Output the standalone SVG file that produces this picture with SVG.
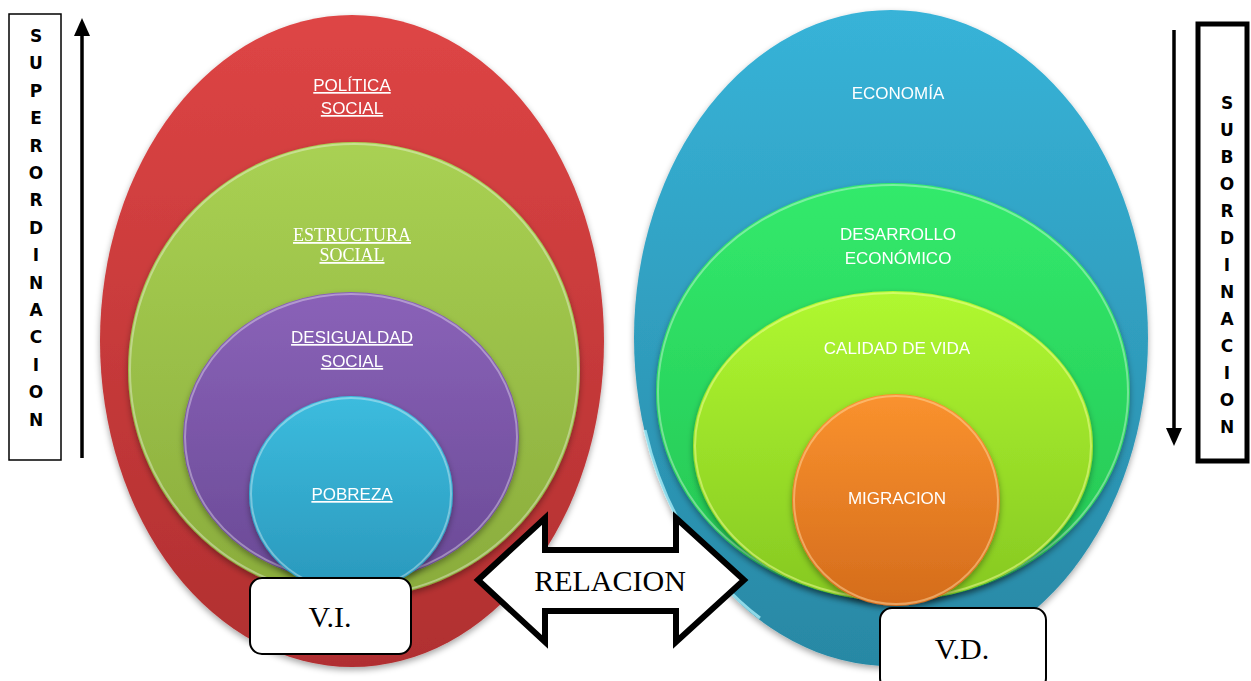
<svg xmlns="http://www.w3.org/2000/svg" width="1251" height="681" viewBox="0 0 1251 681">
<defs>
<linearGradient id="gRed" x1="0" y1="0" x2="0" y2="1"><stop offset="0" stop-color="#de4545"/><stop offset="1" stop-color="#b02f30"/></linearGradient>
<linearGradient id="gLime" x1="0" y1="0" x2="0" y2="1"><stop offset="0" stop-color="#a9d153"/><stop offset="1" stop-color="#8aac3c"/></linearGradient>
<linearGradient id="gPur" x1="0" y1="0" x2="0" y2="1"><stop offset="0" stop-color="#8a62b8"/><stop offset="1" stop-color="#6a4a96"/></linearGradient>
<linearGradient id="gCy" x1="0" y1="0" x2="0" y2="1"><stop offset="0" stop-color="#3cbcde"/><stop offset="1" stop-color="#2a98bc"/></linearGradient>
<linearGradient id="gBlue" x1="0" y1="0" x2="0" y2="1"><stop offset="0" stop-color="#37b3d8"/><stop offset="1" stop-color="#2888a4"/></linearGradient>
<linearGradient id="gGreen" x1="0" y1="0" x2="0" y2="1"><stop offset="0" stop-color="#32ea6c"/><stop offset="1" stop-color="#25c452"/></linearGradient>
<linearGradient id="gYG" x1="0" y1="0" x2="0" y2="1"><stop offset="0" stop-color="#b0f830"/><stop offset="1" stop-color="#86c822"/></linearGradient>
<linearGradient id="gOr" x1="0" y1="0" x2="0" y2="1"><stop offset="0" stop-color="#fa922e"/><stop offset="1" stop-color="#d46c1c"/></linearGradient>
<filter id="sh" x="-10%" y="-10%" width="120%" height="120%"><feDropShadow dx="0" dy="3" stdDeviation="3" flood-color="#000" flood-opacity="0.35"/></filter>
</defs>
<style>
.lbl{font-family:"Liberation Sans",Arial,sans-serif;fill:#fff;text-anchor:middle;font-size:17px}
.ser{font-family:"Liberation Serif","Times New Roman",serif;fill:#fff;text-anchor:middle;font-size:18px}
.u{text-decoration:underline}
.vert{font-family:"DejaVu Sans",Arial,sans-serif;font-weight:bold;font-size:17px;text-anchor:middle;fill:#000}
.box{fill:#fff;stroke:#000;stroke-width:2}
.big{font-family:"Liberation Serif","Times New Roman",serif;font-size:30px;text-anchor:middle;fill:#000}
.hl{fill:none;stroke:#fff;stroke-opacity:0.35;stroke-width:2}
</style>
<rect width="1251" height="681" fill="#fff"/>

<g id="politica-social" filter="url(#sh)">
<ellipse cx="352" cy="341" rx="252" ry="326" fill="url(#gRed)"/>
<text class="lbl u" x="352" y="91">POLÍTICA</text>
<text class="lbl u" x="352" y="114">SOCIAL</text>
</g>
<g id="estructura-social" filter="url(#sh)">
<ellipse cx="354" cy="370" rx="226" ry="228" fill="url(#gLime)"/>
<ellipse cx="354" cy="370" rx="224" ry="226" class="hl"/>
<text class="ser u" x="352" y="241">ESTRUCTURA</text>
<text class="ser u" x="352" y="261">SOCIAL</text>
</g>
<g id="desigualdad-social" filter="url(#sh)">
<ellipse cx="351" cy="437" rx="168" ry="145" fill="url(#gPur)"/>
<ellipse cx="351" cy="437" rx="166" ry="143" class="hl"/>
<text class="lbl u" x="352" y="343">DESIGUALDAD</text>
<text class="lbl u" x="352" y="367">SOCIAL</text>
</g>
<g id="pobreza" filter="url(#sh)">
<ellipse cx="351" cy="494" rx="102" ry="98" fill="url(#gCy)"/>
<ellipse cx="351" cy="494" rx="100" ry="96" class="hl"/>
<text class="lbl u" x="352" y="500">POBREZA</text>
</g>

<g id="economia" filter="url(#sh)">
<ellipse cx="891" cy="338" rx="257" ry="328" fill="url(#gBlue)"/>
<path d="M645,430 A254,325 0 0 0 760,618" fill="none" stroke="#a8ecf8" stroke-width="3" stroke-opacity="0.8"/>
<text class="lbl" x="898" y="99" font-size="18">ECONOMÍA</text>
</g>
<g id="desarrollo-economico" filter="url(#sh)">
<ellipse cx="893" cy="392" rx="237" ry="209" fill="url(#gGreen)"/>
<ellipse cx="893" cy="392" rx="235" ry="207" class="hl"/>
<text class="lbl" x="898" y="240" font-size="18">DESARROLLO</text>
<text class="lbl" x="898" y="264" font-size="18">ECONÓMICO</text>
</g>
<g id="calidad-de-vida" filter="url(#sh)">
<ellipse cx="893" cy="446" rx="200" ry="155" fill="url(#gYG)"/>
<ellipse cx="893" cy="446" rx="198" ry="153" fill="none" stroke="#f4ff9a" stroke-opacity="0.5" stroke-width="2"/>
<text class="lbl" x="897" y="354" font-size="18">CALIDAD DE VIDA</text>
</g>
<g id="migracion" filter="url(#sh)">
<ellipse cx="896" cy="500" rx="104" ry="106" fill="url(#gOr)"/>
<ellipse cx="896" cy="500" rx="102" ry="104" fill="none" stroke="#ffd9a0" stroke-opacity="0.5" stroke-width="2"/>
<text class="lbl" x="897" y="504" font-size="20">MIGRACION</text>
</g>

<g id="vi">
<rect class="box" x="250" y="578" width="161" height="76" rx="12"/>
<text class="big" x="330" y="627">V.I.</text>
</g>
<g id="vd">
<rect class="box" x="880" y="608" width="166" height="82" rx="12"/>
<text class="big" x="962" y="659">V.D.</text>
</g>

<g id="superordinacion">
<rect x="9" y="14" width="52" height="446" fill="#fff" stroke="#000" stroke-width="1.5"/>
<g class="vert">
<text x="36" y="42">S</text><text x="36" y="69">U</text><text x="36" y="97">P</text><text x="36" y="124">E</text><text x="36" y="152">R</text><text x="36" y="179">O</text><text x="36" y="206">R</text><text x="36" y="234">D</text><text x="36" y="261">I</text><text x="36" y="289">N</text><text x="36" y="316">A</text><text x="36" y="343">C</text><text x="36" y="371">I</text><text x="36" y="398">O</text><text x="36" y="426">N</text>
</g>
</g>
<g id="subordinacion">
<rect x="1198" y="24" width="49" height="437" fill="#fff" stroke="#000" stroke-width="5"/>
<g class="vert">
<text x="1227" y="109">S</text><text x="1227" y="136">U</text><text x="1227" y="163">B</text><text x="1227" y="190">O</text><text x="1227" y="217">R</text><text x="1227" y="244">D</text><text x="1227" y="271">I</text><text x="1227" y="298">N</text><text x="1227" y="325">A</text><text x="1227" y="352">C</text><text x="1227" y="379">I</text><text x="1227" y="406">O</text><text x="1227" y="433">N</text>
</g>
</g>

<g id="connectors">
<line x1="82" y1="458" x2="82" y2="30" stroke="#000" stroke-width="3.5"/>
<path d="M74,36 L82,18 L90,36 Z" fill="#000"/>
<line x1="1174" y1="30" x2="1174" y2="432" stroke="#000" stroke-width="3.5"/>
<path d="M1166,428 L1174,446 L1182,428 Z" fill="#000"/>
<path d="M478,580 L545,518 L545,550 L676,550 L676,518 L744,580 L676,642 L676,611 L545,611 L545,642 Z" fill="#fff" stroke="#000" stroke-width="6" stroke-linejoin="miter"/>
<text class="big" x="610" y="591" font-size="29">RELACION</text>
</g>
</svg>
